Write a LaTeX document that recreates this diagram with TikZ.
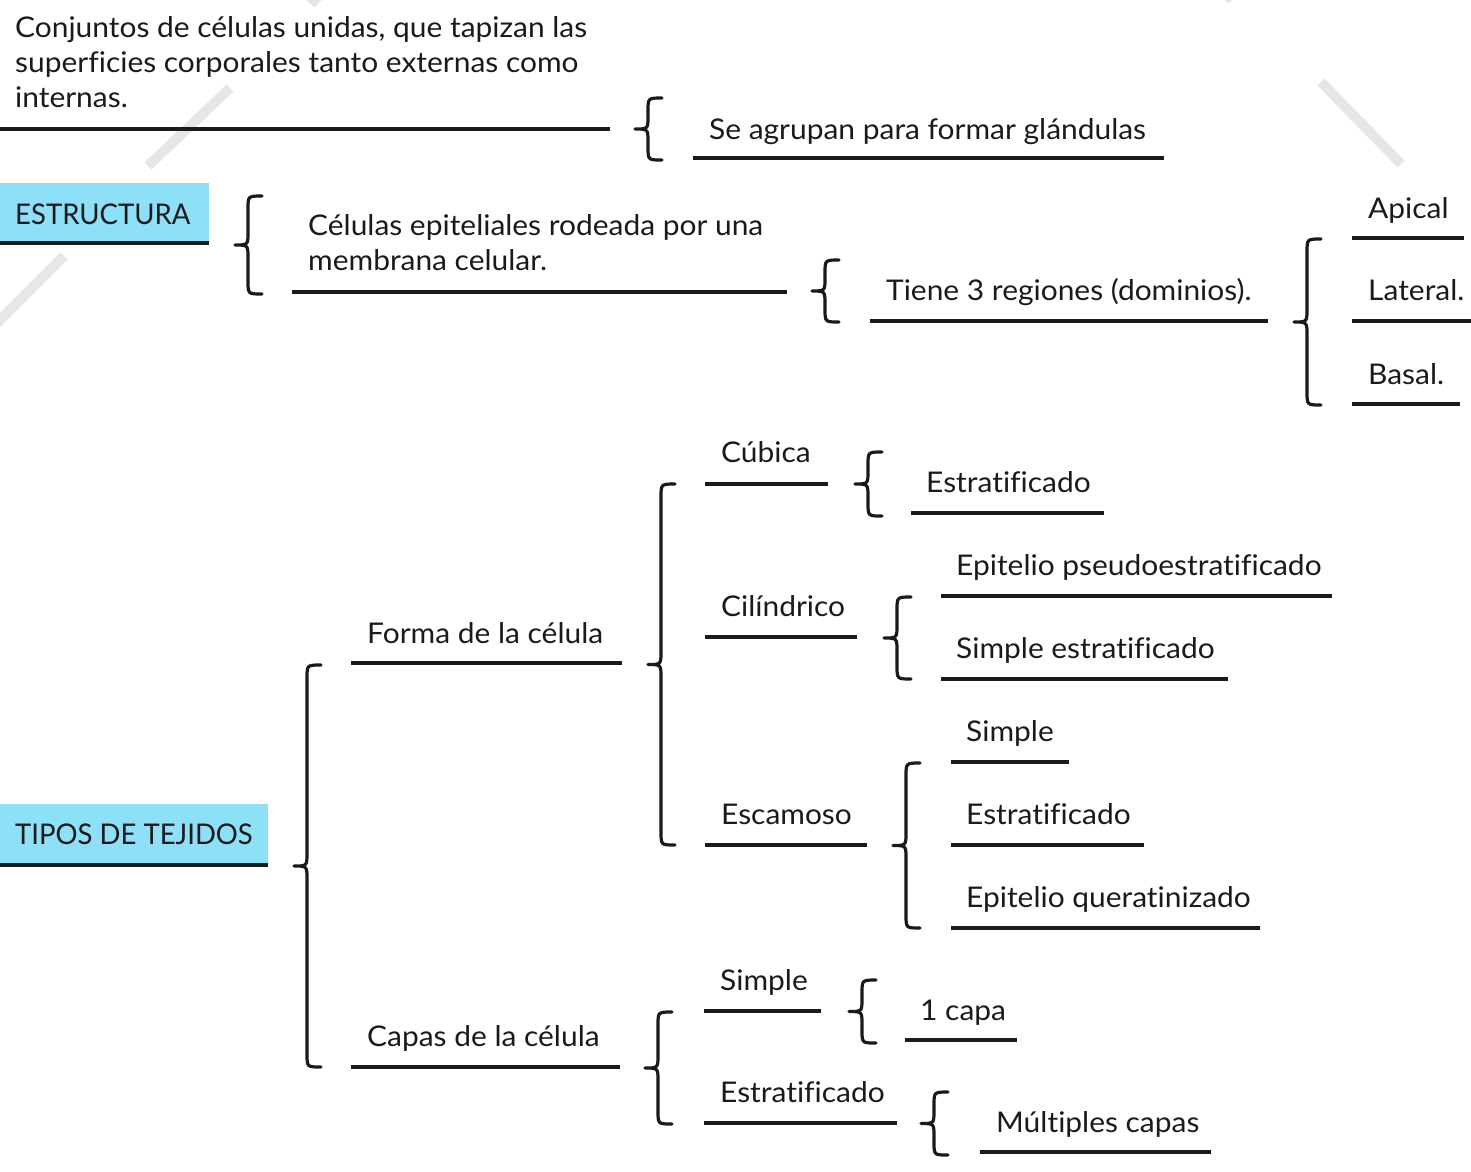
\documentclass[tikz,border=0pt]{standalone}
\usepackage{fontspec}
\setmainfont[FakeStretch=1.05,Ligatures={NoCommon}]{Lato}
\newfontfamily\capsfont[FakeStretch=0.965]{Lato}
\definecolor{ink}{HTML}{1A1A1A}
\definecolor{skyfill}{HTML}{8EDFF8}
\definecolor{wmark}{HTML}{E6E6E6}
\tikzset{
  lbl/.style={anchor=base west, inner sep=0pt, text=ink, font=\fontsize{28.5}{33}\selectfont},
  caplbl/.style={lbl, font=\capsfont\fontsize{28.5}{33}\selectfont},
  rule/.style={draw=ink, line width=3.6pt},
  bracestroke/.style={draw=ink, line width=3.2pt, line cap=round, line join=round},
  wstroke/.style={draw=wmark, line width=10pt},
}
% left curly brace: #1 = x of the vertical, #2 = top y, #3 = bottom y (pixel units, y down)
\newcommand{\lbrc}[3]{%
  \draw[bracestroke] ({#1+14},{#2}) .. controls ({#1},{#2}) .. ({#1},{#2+13})
    -- ({#1},{(#2+#3)/2-13}) .. controls ({#1},{(#2+#3)/2}) .. ({#1-13},{(#2+#3)/2})
    .. controls ({#1},{(#2+#3)/2}) .. ({#1},{(#2+#3)/2+13})
    -- ({#1},{#3-13}) .. controls ({#1},{#3}) .. ({#1+14},{#3});}
\begin{document}
\begin{tikzpicture}[x=1pt,y=-1pt]
\useasboundingbox (0,0) rectangle (1471,1171);
\begin{scope}
\clip (0,0) rectangle (1471,1171);
% faint watermark strokes
\draw[wstroke] (148,166) -- (230,88);
\draw[wstroke] (-10,330) -- (64,256);
\draw[wstroke] (1321,82) -- (1401,164);
\draw[wstroke] (300,-12) -- (318,4);
\draw[wstroke] (1222,-10) -- (1232,0);
\end{scope}

% intro text
\node[lbl] (intro1) at (15,37) {Conjuntos de células unidas, que tapizan las};
\node[lbl] (intro2) at (15,72) {superficies corporales tanto externas como};
\node[lbl] (intro3) at (15,107) {internas.};
\draw[rule] (0,129) -- (610,129);
\lbrc{648}{98}{160}
\node[lbl] (glandulas) at (709,139) {Se agrupan para formar glándulas};
\draw[rule] (693,158) -- (1164,158);

% ESTRUCTURA
\fill[skyfill] (0,183) rectangle (209,243);
\node[caplbl] (estructura) at (15,224) {ESTRUCTURA};
\draw[rule] (0,243) -- (209,243);
\lbrc{248}{196}{294}
\node[lbl] (cel1) at (308,235) {Células epiteliales rodeada por una};
\node[lbl] (cel2) at (308,270) {membrana celular.};
\draw[rule] (292,292) -- (787,292);
\lbrc{825}{260}{322}
\node[lbl] (regiones) at (886,300) {Tiene 3 regiones (dominios).};
\draw[rule] (870,321) -- (1268,321);
\lbrc{1307}{239}{405}
\node[lbl] (apical) at (1368,218) {Apical};
\draw[rule] (1352,238) -- (1464,238);
\node[lbl] (lateral) at (1368,300) {Lateral.};
\draw[rule] (1352,321) -- (1471,321);
\node[lbl] (basal) at (1368,384) {Basal.};
\draw[rule] (1352,404) -- (1460,404);

% TIPOS DE TEJIDOS
\fill[skyfill] (0,804) rectangle (268,865);
\node[caplbl] (tipos) at (15,844) {TIPOS DE TEJIDOS};
\draw[rule] (0,865) -- (268,865);
\lbrc{307}{665}{1067}
\node[lbl] (forma) at (367,643) {Forma de la célula};
\draw[rule] (351,663) -- (622,663);
\node[lbl] (capas) at (367,1046) {Capas de la célula};
\draw[rule] (351,1067) -- (620,1067);

% Forma de la celula
\lbrc{661}{484}{845}
\node[lbl] (cubica) at (721,462) {Cúbica};
\draw[rule] (705,484) -- (828,484);
\node[lbl] (cilindrico) at (721,616) {Cilíndrico};
\draw[rule] (705,637) -- (857,637);
\node[lbl] (escamoso) at (721,824) {Escamoso};
\draw[rule] (705,845) -- (867,845);

\lbrc{868}{452}{516}
\node[lbl] (cubest) at (926,492) {Estratificado};
\draw[rule] (911,513) -- (1104,513);

\lbrc{897}{597}{679}
\node[lbl] (pseudo) at (956,575) {Epitelio pseudoestratificado};
\draw[rule] (941,596) -- (1332,596);
\node[lbl] (simpest) at (956,658) {Simple estratificado};
\draw[rule] (941,679) -- (1228,679);

\lbrc{906}{763}{928}
\node[lbl] (escsimple) at (966,741) {Simple};
\draw[rule] (951,762) -- (1069,762);
\node[lbl] (escest) at (966,824) {Estratificado};
\draw[rule] (951,845) -- (1144,845);
\node[lbl] (querat) at (966,907) {Epitelio queratinizado};
\draw[rule] (951,928) -- (1260,928);

% Capas de la celula
\lbrc{658}{1012}{1124}
\node[lbl] (capsimple) at (720,990) {Simple};
\draw[rule] (704,1011) -- (821,1011);
\node[lbl] (capest) at (720,1102) {Estratificado};
\draw[rule] (704,1123) -- (897,1123);

\lbrc{862}{980}{1043}
\node[lbl] (unacapa) at (920,1020) {1 capa};
\draw[rule] (905,1040) -- (1017,1040);

\lbrc{934}{1092}{1155}
\node[lbl] (multiples) at (996,1132) {Múltiples capas};
\draw[rule] (980,1152) -- (1211,1152);
\end{tikzpicture}
\end{document}
